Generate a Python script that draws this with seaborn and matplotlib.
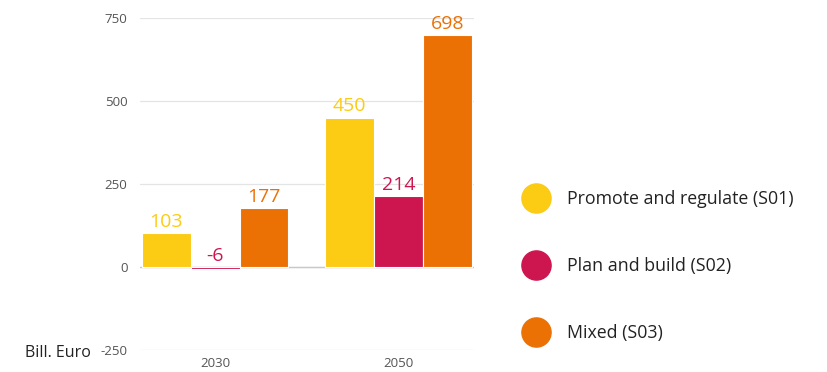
import seaborn as sns
import matplotlib.pyplot as plt
import pandas as pd
from matplotlib.lines import Line2D

years = ['2030', '2050']
scenarios = ['Promote and regulate (S01)', 'Plan and build (S02)', 'Mixed (S03)']
s01 = [103, 450]
s02 = [-6, 214]
s03 = [177, 698]
colors = ['#FCCB14', '#CD154F', '#EC7105']

df = pd.DataFrame({
    'year': years * 3,
    'scenario': [scenarios[0]] * 2 + [scenarios[1]] * 2 + [scenarios[2]] * 2,
    'value': s01 + s02 + s03,
})

sns.set_theme(style="white")
plt.rcParams['font.family'] = ['Open Sans', 'DejaVu Sans']
plt.rcParams['axes.unicode_minus'] = False

fig = plt.figure(figsize=(8.28, 3.72), dpi=100)
ax = fig.add_axes([0.169, 0.059, 0.403, 0.893])

sns.barplot(data=df, x='year', y='value', hue='scenario', hue_order=scenarios,
            palette=colors, saturation=1, width=0.8, ax=ax, legend=False,
            edgecolor='white', linewidth=0.8, zorder=3)

# value labels, always above the zero line
for cont, c in zip(ax.containers, colors):
    for bar, v in zip(cont, cont.datavalues):
        ax.annotate(str(int(v)), (bar.get_x() + bar.get_width() / 2, max(v, 0)),
                    xytext=(0, 1.5), textcoords='offset points',
                    ha='center', va='bottom', color=c, fontsize=14)

ax.set_ylim(-250, 750)
ax.set_xlim(-0.41, 1.41)
ax.set_yticks([-250, 0, 250, 500, 750])
ax.grid(axis='y', color='#e4e4e4', linewidth=0.9, zorder=0)
ax.axhline(0, color='#c8c8c8', linewidth=1, zorder=1)
for s in ax.spines.values():
    s.set_visible(False)
ax.tick_params(axis='y', length=0, labelsize=9.5, colors='#555555', pad=9)
ax.tick_params(axis='x', length=0, labelsize=9.5, colors='#555555', pad=5)
ax.set_xlabel('')
ax.set_ylabel('')

fig.text(0.03, 0.052, 'Bill. Euro', fontsize=11.5, color='#222222', va='center')

handles = [Line2D([0], [0], marker='o', linestyle='', markersize=21,
                  markerfacecolor=c, markeredgecolor=c) for c in colors]
fig.legend(handles, scenarios, loc='center left', bbox_to_anchor=(0.607, 0.285),
           frameon=False, fontsize=12.8, labelspacing=2.75, handletextpad=0.75,
           labelcolor='#222222')

fig.savefig('out.png', dpi=100)
